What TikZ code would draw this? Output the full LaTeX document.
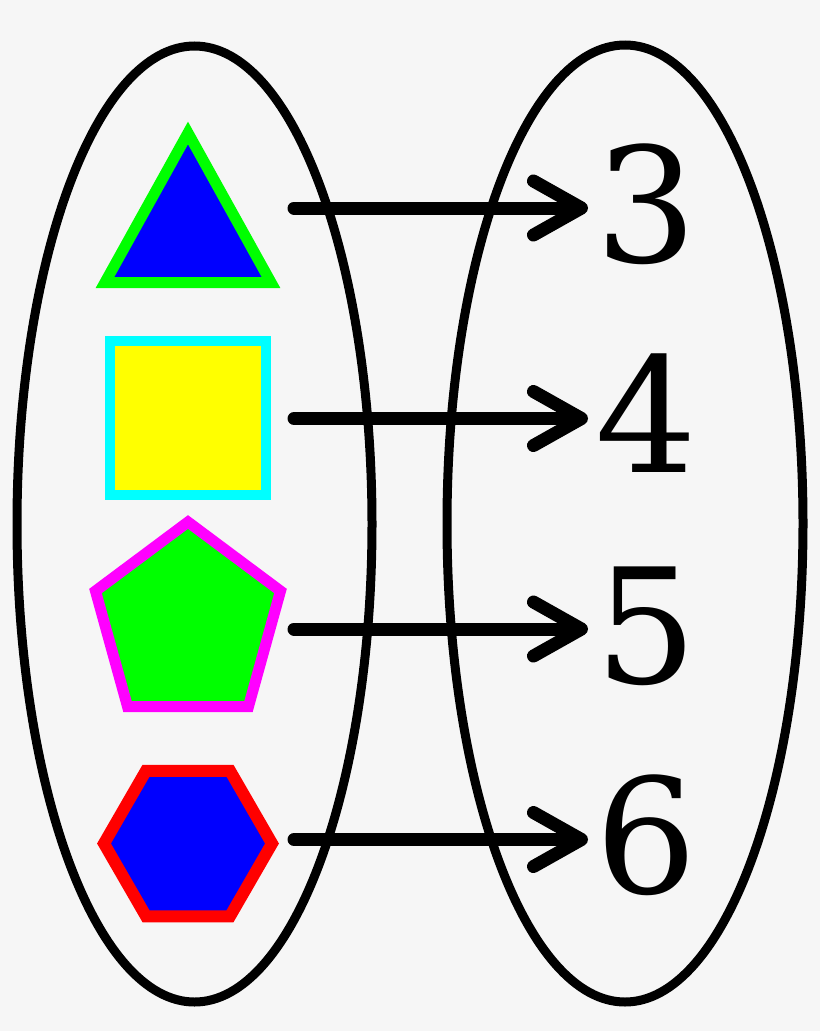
\documentclass[tikz,border=0pt]{standalone}
\usepackage{fontspec}
\newfontfamily\digitfont{DejaVu Serif}
\usetikzlibrary{arrows.meta}
\definecolor{bg}{HTML}{F6F6F6}
\tikzset{
  setoval/.style={draw=black, line width=9pt},
  mapsto/.style={draw=black, line width=13pt, line cap=round, -{Straight Barb[length=48pt,width=54pt,round]}},
  digit/.style={inner sep=0pt, anchor=base, font=\digitfont\fontsize{160}{160}\selectfont},
  shapeline/.style={line width=11pt, miter limit=10, line join=miter}
}
\begin{document}
\begin{tikzpicture}[x=1pt,y=-1pt]
\fill[bg] (0,0) rectangle (820,1031);
\useasboundingbox (0,0) rectangle (820,1031);
% sets
\draw[setoval] (194.5,524) ellipse [x radius=177.5, y radius=478];
\draw[setoval] (625,523.5) ellipse [x radius=178, y radius=478.5];
% shapes
\draw[shapeline, draw={rgb,255:red,0;green,255;blue,0}, fill={rgb,255:red,0;green,0;blue,255}]
  (188,133) -- (271,282.5) -- (105,282.5) -- cycle;
\draw[line width=10pt, draw={rgb,255:red,0;green,255;blue,255}, fill={rgb,255:red,255;green,255;blue,0}]
  (110,341) rectangle (266,495);
\draw[shapeline, draw={rgb,255:red,255;green,0;blue,255}, fill={rgb,255:red,0;green,255;blue,0}]
  (188,522) -- (280.5,591) -- (248.5,706.5) -- (127.5,706.5) -- (95.5,591) -- cycle;
\draw[line width=12pt, line join=miter, draw={rgb,255:red,255;green,0;blue,0}, fill={rgb,255:red,0;green,0;blue,255}]
  (188,843.5) +(0:84) -- +(60:84) -- +(120:84) -- +(180:84) -- +(240:84) -- +(300:84) -- cycle;
% digits
\node[digit] (d3) at (646,262) {3};
\node[digit] (d4) at (646,472.5) {4};
\node[digit] (d5) at (646,683) {5};
\node[digit] (d6) at (646,893.5) {6};
% connector ends
\coordinate (s3) at (294,208);   \coordinate (t3) at (588,208);
\coordinate (s4) at (294,418.5); \coordinate (t4) at (588,418.5);
\coordinate (s5) at (294,629);   \coordinate (t5) at (588,629);
\coordinate (s6) at (294,839.5); \coordinate (t6) at (588,839.5);
\draw[mapsto] (s3) -- (t3);
\draw[mapsto] (s4) -- (t4);
\draw[mapsto] (s5) -- (t5);
\draw[mapsto] (s6) -- (t6);
\end{tikzpicture}
\end{document}
